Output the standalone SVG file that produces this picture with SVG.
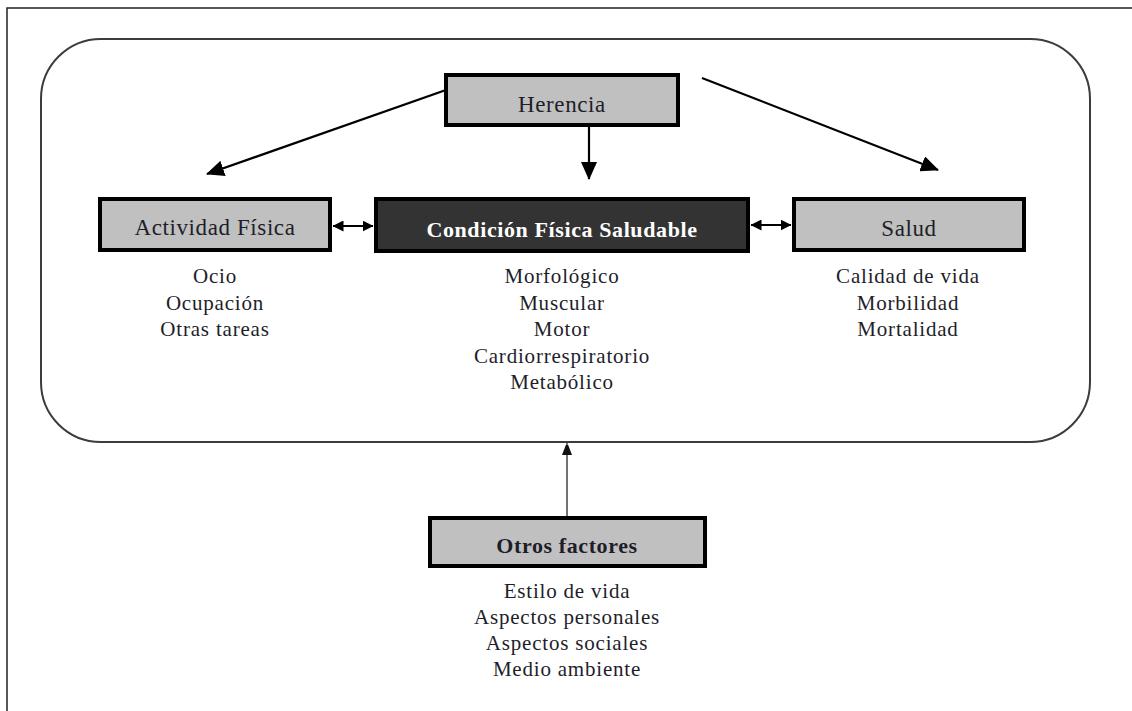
<svg xmlns="http://www.w3.org/2000/svg" width="1132" height="711" viewBox="0 0 1132 711">
<style>
  .box { stroke:#000; stroke-width:4; }
  .grey { fill:#c0c0c0; }
  .dark { fill:#333333; }
  .lbl { font-family:"Liberation Serif", "Times New Roman", serif; font-size:23px; fill:#1e1e2a; text-anchor:middle; letter-spacing:0.6px; }
  .lblb { font-family:"Liberation Serif", "Times New Roman", serif; font-size:22px; font-weight:bold; text-anchor:middle; letter-spacing:0.6px; }
  .lst { font-family:"Liberation Serif", "Times New Roman", serif; font-size:21px; fill:#1e1e2a; text-anchor:middle; letter-spacing:0.8px; }
  .conn { stroke:#000; stroke-width:2.2; fill:none; }
</style>
<defs>
  <marker id="arr" markerUnits="userSpaceOnUse" markerWidth="18" markerHeight="16" viewBox="0 0 18 16" refX="17" refY="8" orient="auto">
    <path d="M0,0 L18,8 L0,16 z" fill="#000"/>
  </marker>
  <marker id="arrS" markerUnits="userSpaceOnUse" markerWidth="11" markerHeight="11" viewBox="0 0 11 11" refX="10.5" refY="5.5" orient="auto-start-reverse">
    <path d="M0,0 L11,5.5 L0,11 z" fill="#000"/>
  </marker>
  <marker id="arrT" markerUnits="userSpaceOnUse" markerWidth="10" markerHeight="13" viewBox="0 0 10 13" refX="12" refY="5" orient="auto">
    <path d="M0,0 L13,5 L0,10 z" fill="#111"/>
  </marker>
</defs>
<rect width="1132" height="711" fill="#fff"/>
<path d="M7,711 V8 H1132" fill="none" stroke="#222" stroke-width="1.5"/>
<g id="container">
  <rect x="41" y="39" width="1049" height="403" rx="60" ry="60" fill="none" stroke="#3c3c3c" stroke-width="2"/>
</g>
<g id="connectors">
  <line class="conn" x1="463" y1="84" x2="207" y2="174" marker-end="url(#arr)"/>
  <line class="conn" x1="702" y1="78" x2="938" y2="170" marker-end="url(#arr)"/>
  <line class="conn" x1="589" y1="121" x2="589" y2="179" marker-end="url(#arr)"/>
  <line class="conn" x1="333" y1="226" x2="373" y2="226" marker-start="url(#arrS)" marker-end="url(#arrS)"/>
  <line class="conn" x1="751" y1="225" x2="791" y2="225" marker-start="url(#arrS)" marker-end="url(#arrS)"/>
  <line x1="567" y1="516" x2="567" y2="443" stroke="#444" stroke-width="1.5" marker-end="url(#arrT)"/>
</g>
<g id="herencia">
  <rect class="box grey" x="446" y="75" width="232" height="50"/>
  <text class="lbl" x="562" y="112">Herencia</text>
</g>
<g id="actividad">
  <rect class="box grey" x="100" y="199" width="230" height="51"/>
  <text class="lbl" x="215" y="235">Actividad Física</text>
  <text class="lst" x="215" y="283">Ocio</text>
  <text class="lst" x="215" y="309.5">Ocupación</text>
  <text class="lst" x="215" y="336">Otras tareas</text>
</g>
<g id="condicion">
  <rect class="box dark" x="376" y="199" width="372" height="52"/>
  <text class="lblb" x="562" y="237" fill="#fff">Condición Física Saludable</text>
  <text class="lst" x="562" y="283">Morfológico</text>
  <text class="lst" x="562" y="309.5">Muscular</text>
  <text class="lst" x="562" y="336">Motor</text>
  <text class="lst" x="562" y="362.5">Cardiorrespiratorio</text>
  <text class="lst" x="562" y="389">Metabólico</text>
</g>
<g id="salud">
  <rect class="box grey" x="794" y="199" width="230" height="51"/>
  <text class="lbl" x="909" y="236">Salud</text>
  <text class="lst" x="908" y="283">Calidad de vida</text>
  <text class="lst" x="908" y="309.5">Morbilidad</text>
  <text class="lst" x="908" y="336">Mortalidad</text>
</g>
<g id="otros">
  <rect class="box grey" x="430" y="518" width="275" height="48"/>
  <text class="lblb" x="567" y="553" fill="#1e1e2a">Otros factores</text>
  <text class="lst" x="567" y="598">Estilo de vida</text>
  <text class="lst" x="567" y="624">Aspectos personales</text>
  <text class="lst" x="567" y="650">Aspectos sociales</text>
  <text class="lst" x="567" y="676">Medio ambiente</text>
</g>
</svg>
